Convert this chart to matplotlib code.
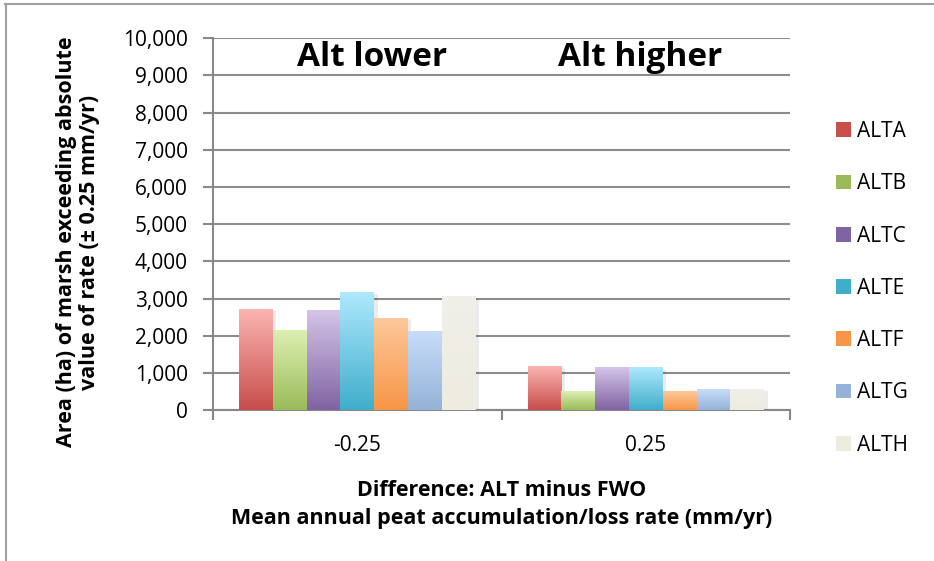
import numpy as np
import matplotlib
matplotlib.use('agg')
import matplotlib.pyplot as plt
from matplotlib.colors import LinearSegmentedColormap
from matplotlib.patches import Patch
from matplotlib.lines import Line2D

# Data
categories = ['-0.25', '0.25']
series = ['ALTA', 'ALTB', 'ALTC', 'ALTE', 'ALTF', 'ALTG', 'ALTH']
values = {
    'ALTA': [2710, 1180],
    'ALTB': [2150, 510],
    'ALTC': [2680, 1130],
    'ALTE': [3170, 1130],
    'ALTF': [2470, 510],
    'ALTG': [2120, 540],
    'ALTH': [3060, 540],
}
# (top colour, bottom colour) of each gradient
colors = {
    'ALTA': ('#fab4b2', '#c84e4b'),
    'ALTB': ('#dcf0b2', '#9bbb59'),
    'ALTC': ('#d4c4e8', '#8064a2'),
    'ALTE': ('#aee8fc', '#40aecb'),
    'ALTF': ('#fdc89a', '#f79646'),
    'ALTG': ('#c8dcfa', '#95b3d7'),
    'ALTH': ('#f0efe8', '#eeece1'),
}
group_labels = ['Alt lower', 'Alt higher']
group_label_x = [0.05, 0.98]

plt.rcParams['font.family'] = ['Open Sans', 'DejaVu Sans']

fig = plt.figure(figsize=(9.34, 5.61), dpi=100, facecolor='w')
ax = fig.add_axes([0.228, 0.269, 0.618, 0.663])

n = len(series)
group_w = 0.82
bw = group_w / n
x = np.arange(len(categories))
grad = np.linspace(0, 1, 100).reshape(-1, 1)

for i, s in enumerate(series):
    top, bot = colors[s]
    cmap = LinearSegmentedColormap.from_list(s, [bot, top])
    for j, v in enumerate(values[s]):
        x0 = x[j] - group_w / 2 + i * bw
        # soft shadow
        ax.bar(x0 + bw / 2 + 0.012, v, width=bw, bottom=-40, color='#000000',
               alpha=0.08, zorder=2, linewidth=0)
        ax.imshow(grad, extent=[x0, x0 + bw, 0, v], origin='lower',
                  aspect='auto', cmap=cmap, zorder=3)

ax.set_xlim(-0.5, 1.5)
ax.set_ylim(0, 10000)
ax.set_yticks(np.arange(0, 10001, 1000))
ax.yaxis.set_major_formatter(matplotlib.ticker.FuncFormatter(lambda v, p: '{:,.0f}'.format(v)))
ax.set_xticks(x)
ax.set_xticklabels(categories)
ax.set_xticks([-0.5, 0.5, 1.5], minor=True)
ax.tick_params(axis='x', which='major', length=0, pad=18, labelsize=15)
ax.tick_params(axis='x', which='minor', length=7, width=1.5, color='#888888')
ax.tick_params(axis='y', length=7, width=1.5, color='#888888', labelsize=15, pad=11)
ax.grid(axis='y', color='#8c8c8c', linewidth=1.5, zorder=1)
ax.set_axisbelow(True)
for sp in ['top', 'right']:
    ax.spines[sp].set_visible(False)
for sp in ['left', 'bottom']:
    ax.spines[sp].set_color('#888888')
    ax.spines[sp].set_linewidth(1.5)

for j, g in enumerate(group_labels):
    ax.text(group_label_x[j], 9490, g, ha='center', va='center',
            fontsize=24, fontweight='bold', zorder=5)

ax.set_ylabel('Area (ha) of marsh exceeding absolute\nvalue of rate (\u00b1 0.25 mm/yr)',
              fontsize=15.5, fontweight='bold', linespacing=1.1)
ax.yaxis.set_label_coords(-0.196, 0.452)
ax.set_xlabel('Difference: ALT minus FWO\nMean annual peat accumulation/loss rate (mm/yr)',
              fontsize=15.5, fontweight='bold', labelpad=17, linespacing=1.45)

handles = [Patch(facecolor=colors[s][1], edgecolor='none') for s in series]
fig.legend(handles, series, loc='center left', bbox_to_anchor=(0.895, 0.486),
           frameon=False, fontsize=15, handlelength=0.72, handleheight=0.72,
           handletextpad=0.3, labelspacing=1.5, borderpad=0, borderaxespad=0)

# outer chart border (only top and left visible in the crop)
fig.add_artist(Line2D([0.005, 1.0], [0.993, 0.993], color='#a0a0a0', linewidth=1.5,
                      transform=fig.transFigure))
fig.add_artist(Line2D([0.006, 0.006], [0.0, 0.993], color='#a0a0a0', linewidth=1.5,
                      transform=fig.transFigure))

fig.savefig('out.png', dpi=100, facecolor='w')
